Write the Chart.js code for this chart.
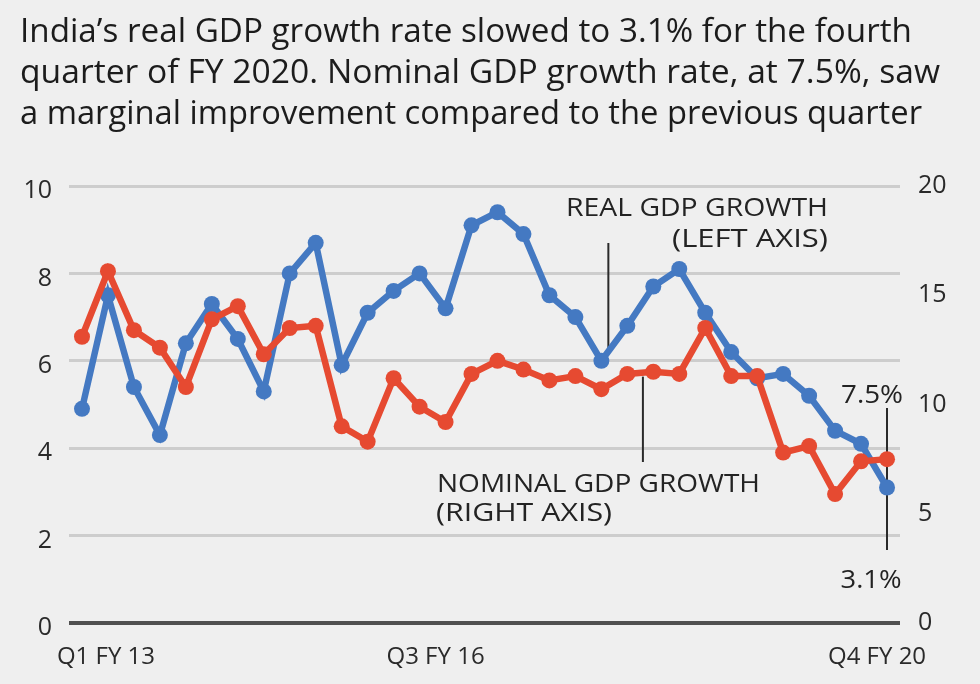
<!DOCTYPE html>
<html>
<head>
<meta charset="utf-8">
<script src="https://cdn.jsdelivr.net/npm/chart.js@4/dist/chart.umd.min.js"></script>
<style>
html,body{margin:0;padding:0;background:#efefef;width:980px;height:684px;overflow:hidden;}
#wrap{position:absolute;left:0;top:0;width:980px;height:684px;}
</style>
</head>
<body>
<div id="wrap"><canvas id="c" width="980" height="684"></canvas></div>
<script>
// ---- data ----
const quarters = [
  'Q1 FY 13','Q2 FY 13','Q3 FY 13','Q4 FY 13',
  'Q1 FY 14','Q2 FY 14','Q3 FY 14','Q4 FY 14',
  'Q1 FY 15','Q2 FY 15','Q3 FY 15','Q4 FY 15',
  'Q1 FY 16','Q2 FY 16','Q3 FY 16','Q4 FY 16',
  'Q1 FY 17','Q2 FY 17','Q3 FY 17','Q4 FY 17',
  'Q1 FY 18','Q2 FY 18','Q3 FY 18','Q4 FY 18',
  'Q1 FY 19','Q2 FY 19','Q3 FY 19','Q4 FY 19',
  'Q1 FY 20','Q2 FY 20','Q3 FY 20','Q4 FY 20'
];
const shownQuarterTicks = ['Q1 FY 13','Q3 FY 16','Q4 FY 20'];
const realGdp = [4.9,7.5,5.4,4.3,6.4,7.3,6.5,5.3,8.0,8.7,5.9,7.1,7.6,8.0,7.2,9.1,
                 9.4,8.9,7.5,7.0,6.0,6.8,7.7,8.1,7.1,6.2,5.6,5.7,5.2,4.4,4.1,3.1];
const nominalGdp = [13.1,16.1,13.4,12.6,10.8,13.9,14.5,12.3,13.5,13.6,9.0,8.3,11.2,9.9,9.2,11.4,
                    12.0,11.6,11.1,11.3,10.7,11.4,11.5,11.4,13.5,11.3,11.3,7.8,8.1,5.9,7.4,7.5];
const leftTicks = {min:0, max:10, step:2};
const rightTicks = {min:0, max:20, step:5};
const titleLines = [
  "India\u2019s real GDP growth rate slowed to 3.1% for the fourth",
  "quarter of FY 2020. Nominal GDP growth rate, at 7.5%, saw",
  "a marginal improvement compared to the previous quarter"
];

const BLUE = '#4479c2';
const RED = '#e64a31';
const FONT = '"Open Sans", "DejaVu Sans", sans-serif';

function fitText(ctx, text, x, y, align, target, size) {
  ctx.save();
  ctx.font = '500 ' + size + 'px ' + FONT;
  const w = ctx.measureText(text).width;
  const s = target / w;
  let left = x;
  if (align === 'right') left = x - target;
  else if (align === 'center') left = x - target / 2;
  ctx.translate(left, y);
  ctx.scale(s, 1);
  ctx.textAlign = 'left';
  ctx.textBaseline = 'alphabetic';
  ctx.fillText(text, 0, 0);
  ctx.restore();
}

const titlePlugin = {
  id: 'titleText',
  afterDraw(chart) {
    const ctx = chart.ctx;
    ctx.fillStyle = '#1c1c1c';
    const widths = [892, 920, 902];
    const baselines = [42, 83, 124];
    titleLines.forEach((t, i) => fitText(ctx, t, 20, baselines[i], 'left', widths[i], 33));
  }
};

// nudge the first category label to the right, as in the original layout
const firstLabelPlugin = {
  id: 'firstLabel',
  beforeDraw(chart) {
    const s = chart.scales.x;
    if (!s || typeof s._computeLabelItems !== 'function') return;
    try {
      const items = s._computeLabelItems(chart.chartArea);
      if (items && items.length) {
        const it = items.find(o => o.label === shownQuarterTicks[0]);
        if (it && it.options && it.options.translation) it.options.translation[0] += 34;
        s._labelItems = items;
      }
    } catch (e) {}
  }
};

const annotationPlugin = {
  id: 'annot',
  beforeDatasetsDraw(chart) {
    const ctx = chart.ctx;
    const xs = chart.scales.x, yL = chart.scales.y, yR = chart.scales.y1;
    const sp = xs.getPixelForValue(1) - xs.getPixelForValue(0);
    ctx.save();
    ctx.strokeStyle = '#2a2a2a';
    ctx.lineWidth = 2;
    const rx = xs.getPixelForValue(20) + 7;
    ctx.beginPath();
    ctx.moveTo(rx, 243);
    ctx.lineTo(rx, yL.getPixelForValue(realGdp[20]) - 8);
    ctx.stroke();
    const nx = xs.getPixelForValue(21) + 0.6 * sp;
    const ny = yR.getPixelForValue(nominalGdp[21] + 0.6 * (nominalGdp[22] - nominalGdp[21]));
    ctx.beginPath();
    ctx.moveTo(nx, ny + 4);
    ctx.lineTo(nx, 462);
    ctx.stroke();
    const lx = xs.getPixelForValue(31);
    ctx.beginPath();
    ctx.moveTo(lx, 408);
    ctx.lineTo(lx, 550);
    ctx.stroke();
    ctx.restore();
  },
  afterDraw(chart) {
    const ctx = chart.ctx;
    const xs = chart.scales.x;
    const lx = xs.getPixelForValue(31);
    ctx.save();
    ctx.fillStyle = '#232323';
    fitText(ctx, 'REAL GDP GROWTH', 828, 216, 'right', 262, 25);
    fitText(ctx, '(LEFT AXIS)', 828, 247, 'right', 156, 25);
    fitText(ctx, 'NOMINAL GDP GROWTH', 437, 492, 'left', 323, 26);
    fitText(ctx, '(RIGHT AXIS)', 436, 521, 'left', 176, 26);
    fitText(ctx, nominalGdp[31].toFixed(1) + '%', lx - 15, 403, 'center', 62, 25);
    fitText(ctx, realGdp[31].toFixed(1) + '%', lx - 16, 588, 'center', 61, 25);
    ctx.restore();
  }
};

new Chart(document.getElementById('c'), {
  type: 'line',
  data: {
    labels: quarters,
    datasets: [
      {
        label: 'Nominal GDP growth (right axis)',
        data: nominalGdp,
        yAxisID: 'y1',
        borderColor: RED,
        backgroundColor: RED,
        pointBackgroundColor: RED,
        borderWidth: 6.5,
        pointRadius: 8,
        pointBorderWidth: 0,
        tension: 0,
        order: 1
      },
      {
        label: 'Real GDP growth (left axis)',
        data: realGdp,
        yAxisID: 'y',
        borderColor: BLUE,
        backgroundColor: BLUE,
        pointBackgroundColor: BLUE,
        borderWidth: 6.5,
        pointRadius: 8,
        pointBorderWidth: 0,
        tension: 0,
        order: 2
      }
    ]
  },
  options: {
    responsive: false,
    animation: false,
    devicePixelRatio: 1,
    layout: {padding: {top: 186, left: 0, right: 0, bottom: 0}},
    plugins: {legend: {display: false}, tooltip: {enabled: false}, title: {display: false}},
    scales: {
      x: {
        offset: true,
        grid: {display: false, drawTicks: false},
        border: {display: false},
        ticks: {
          autoSkip: false,
          maxRotation: 0,
          minRotation: 0,
          padding: 20,
          labelOffset: -10,
          color: '#2a2a2a',
          font: {family: FONT, size: 24, weight: 500},
          callback: function(v, i) {
            const l = quarters[i];
            return shownQuarterTicks.includes(l) ? l : '';
          }
        },
        afterFit(s) { s.height = 61; }
      },
      y: {
        position: 'left',
        min: leftTicks.min,
        max: leftTicks.max,
        border: {display: false},
        grid: {
          drawTicks: false,
          color: c => (c.tick && c.tick.value === 0) ? '#505050' : '#cdcdcd',
          lineWidth: c => (c.tick && c.tick.value === 0) ? 4 : 3
        },
        ticks: {
          stepSize: leftTicks.step,
          padding: 17,
          labelOffset: 5,
          color: '#2a2a2a',
          font: {family: FONT, size: 25, weight: 500}
        },
        afterFit(s) { s.width = 69; }
      },
      y1: {
        position: 'right',
        min: rightTicks.min,
        max: rightTicks.max,
        border: {display: false},
        grid: {display: false, drawTicks: false},
        ticks: {
          stepSize: rightTicks.step,
          padding: 18,
          color: '#2a2a2a',
          font: {family: FONT, size: 25, weight: 500}
        },
        afterFit(s) { s.width = 80; }
      }
    }
  },
  plugins: [firstLabelPlugin, titlePlugin, annotationPlugin]
});
</script>
</body>
</html>
